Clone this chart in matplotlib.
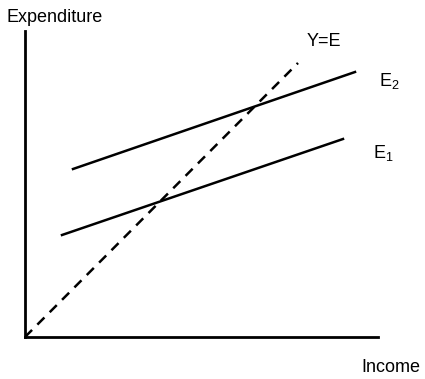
import matplotlib
matplotlib.use("Agg")
import matplotlib.pyplot as plt

plt.rcParams['font.family'] = ['Liberation Sans', 'DejaVu Sans']

# lines in chart units (income on x, expenditure on y)
ye_x = [0, 273]
ye_y = [0, 274]
e1_x = [37, 318]
e1_y = [102, 198]
e2_x = [48, 330]
e2_y = [168, 265]

W, H = 425, 379
fig = plt.figure(figsize=(W / 100, H / 100), dpi=100)

# axes placed so origin sits at pixel (25, 337)
ax = fig.add_axes([25 / W, (H - 337) / H, 353 / W, 306 / H])
ax.set_xlim(0, 353)
ax.set_ylim(0, 306)

ax.plot(ye_x, ye_y, color="black", lw=1.8, dashes=(4, 3))
ax.plot(e1_x, e1_y, color="black", lw=1.8)
ax.plot(e2_x, e2_y, color="black", lw=1.8)

for s in ["top", "right"]:
    ax.spines[s].set_visible(False)
for s in ["left", "bottom"]:
    ax.spines[s].set_linewidth(2)
ax.set_xticks([])
ax.set_yticks([])
ax.patch.set_alpha(0)

# labels (pixel positions converted to figure fractions)
def put(txt, px, py, **kw):
    fig.text(px / W, 1 - py / H, txt, fontsize=13, va="center", ha="left", **kw)

put("Expenditure", 7, 17)
put("Income", 361, 367)
put("Y=E", 307, 41)
put(r"$\mathregular{E_2}$", 379, 81)
put(r"$\mathregular{E_1}$", 373, 153)

fig.savefig("out.png", dpi=100)
